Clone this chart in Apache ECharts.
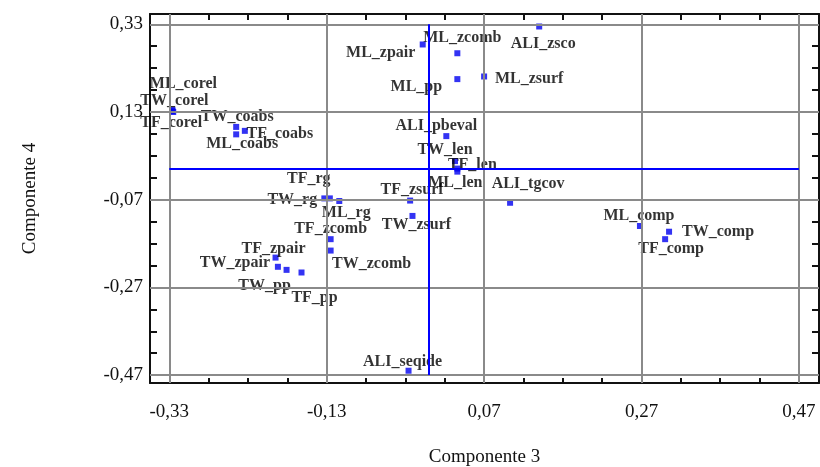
<!DOCTYPE html>
<html>
<head>
<meta charset="utf-8">
<script src="https://cdn.jsdelivr.net/npm/echarts@6/dist/echarts.min.js"></script>
<style>
  html, body { margin: 0; padding: 0; background: #fff; }
  #chart { width: 820px; height: 467px; }
</style>
</head>
<body>
<div id="chart"></div>
<script>
// variable names and coordinates (Componente 3, Componente 4)
const names = [
    'ML_corel', 'TW_corel', 'TF_corel', 'TW_coabs', 'TF_coabs', 'ML_coabs',
    'ML_zpair', 'ML_zcomb', 'ALI_zsco', 'ML_pp', 'ML_zsurf', 'ALI_pbeval',
    'TW_len', 'TF_len', 'ML_len', 'ALI_tgcov', 'TF_rg', 'TW_rg', 'ML_rg',
    'TF_zsurf', 'TW_zsurf', 'TF_zcomb', 'TW_zcomb', 'TF_zpair', 'TW_zpair',
    'TW_pp', 'TF_pp', 'ML_comp', 'TW_comp', 'TF_comp', 'ALI_seqide'
]
const comp3 = [
    -0.326, -0.326, -0.325, -0.245, -0.234, -0.245,
    -0.008, 0.036, 0.140, 0.036, 0.070, 0.022,
    0.033, 0.036, 0.036, 0.103, -0.126, -0.133, -0.114,
    -0.024, -0.021, -0.125, -0.125, -0.195, -0.192,
    -0.181, -0.162, 0.268, 0.305, 0.300, -0.026
]
const comp4 = [
    0.135, 0.132, 0.130, 0.096, 0.087, 0.079,
    0.284, 0.264, 0.325, 0.205, 0.211, 0.075,
    0.018, 0.001, -0.006, -0.077, -0.067, -0.067, -0.073,
    -0.072, -0.107, -0.160, -0.186, -0.202, -0.223,
    -0.230, -0.236, -0.130, -0.143, -0.160, -0.460
]
const xTickLabels = [-0.33, -0.13, 0.07, 0.27, 0.47]
const yTickLabels = [-0.47, -0.27, -0.07, 0.13, 0.33]

// label placement (text centre relative to the point, px)
const labelOffsets = [
    [11, -26], [2, -10], [-2, 11], [1, -10], [35, 3], [6, 9],
    [-42, 8], [5, -15], [4, 17], [-41, 8], [45, 2], [-10, -10],
    [-10, -11], [15, -4], [-2, 11], [18, -19], [-21, -20], [-32, 1], [7, 12],
    [2, -11], [4, 9], [0, -10], [41, 13], [-2, -9], [-43, -4],
    [-22, 16], [13, 25], [-1, -10], [49, 0], [6, 10], [-6, -9]
]

const minorTicks = (from, to) => {
    const out = []
    for (let v = from; v <= to + 1e-9; v += 0.05) out.push(+v.toFixed(2))
    return out
}
const xMinor = minorTicks(-0.33, 0.47)
const yMinor = minorTicks(-0.47, 0.33)

const fmt = (v) => v.toFixed(2).replace('.', ',')

const xRange = { min: -0.3545, max: 0.4955 }
const yRange = { min: -0.488, max: 0.3535 }

const makeAxis = (range, position, ticks, len, withLine, labels) => ({
    type: 'value',
    position: position,
    min: range.min,
    max: range.max,
    axisLine: { show: withLine, onZero: false, lineStyle: { color: '#111', width: 2 } },
    axisTick: { show: true, inside: true, length: len, customValues: ticks, lineStyle: { color: '#111', width: 2 } },
    axisLabel: labels ? {
        show: true, customValues: labels, formatter: fmt, margin: 20,
        fontFamily: 'Liberation Serif', fontSize: 19, color: '#111'
    } : { show: false },
    splitLine: { show: false }
})

const nameStyle = { fontFamily: 'Liberation Serif', fontSize: 19, color: '#111' }

const xAxes = [
    Object.assign(makeAxis(xRange, 'bottom', xTickLabels, 8, true, xTickLabels), {
        name: 'Componente 3', nameLocation: 'middle', nameGap: 65, nameTextStyle: nameStyle
    }),
    makeAxis(xRange, 'bottom', xMinor, 5, false, null),
    makeAxis(xRange, 'top', xMinor, 6, true, null)
]
const yAxes = [
    Object.assign(makeAxis(yRange, 'left', yTickLabels, 13, true, yTickLabels), {
        name: 'Componente 4', nameLocation: 'middle', nameGap: 110, nameRotate: 90, nameTextStyle: nameStyle
    }),
    makeAxis(yRange, 'left', yMinor, 7, false, null),
    makeAxis(yRange, 'right', yTickLabels, 13, true, null),
    makeAxis(yRange, 'right', yMinor, 7, false, null)
]
yAxes[0].axisLabel.margin = 7

const myChart = echarts.init(document.getElementById('chart'))

const gridStyle = { color: '#8a8a8a', width: 2, type: 'solid' }
const blueStyle = { color: '#0000ff', width: 2, type: 'solid' }

const option = {
    backgroundColor: '#fff',
    animation: false,
    grid: { left: 150, right: 1, top: 14, bottom: 84, outerBoundsMode: 'none', containLabel: false },
    xAxis: xAxes,
    yAxis: yAxes,
    series: [
        {
            // grey grid at the labelled ticks
            type: 'scatter',
            data: [],
            silent: true,
            z: 1,
            markLine: {
                silent: true,
                symbol: 'none',
                label: { show: false },
                lineStyle: gridStyle,
                data: xTickLabels.map(v => ({ xAxis: v })).concat(yTickLabels.map(v => ({ yAxis: v })))
            }
        },
        {
            // blue origin lines
            type: 'scatter',
            data: [],
            silent: true,
            z: 2,
            markLine: {
                silent: true,
                symbol: 'none',
                label: { show: false },
                lineStyle: blueStyle,
                data: [
                    [{ coord: [0, yTickLabels[yTickLabels.length - 1]] }, { coord: [0, yTickLabels[0]] }],
                    [{ coord: [xTickLabels[0], 0] }, { coord: [xTickLabels[xTickLabels.length - 1], 0] }]
                ]
            }
        },
        {
            type: 'scatter',
            z: 3,
            symbol: 'rect',
            symbolSize: 6,
            itemStyle: { color: '#0000f0' },
            label: {
                show: true,
                position: 'inside',
                formatter: (p) => p.name,
                fontFamily: 'Liberation Serif',
                fontWeight: 'bold',
                fontSize: 16,
                color: '#000',
                textBorderWidth: 0
            },
            data: names.map((n, i) => ({
                name: n,
                value: [comp3[i], comp4[i]],
                label: { offset: labelOffsets[i] }
            }))
        }
    ]
}

option && myChart.setOption(option)
</script>
</body>
</html>
